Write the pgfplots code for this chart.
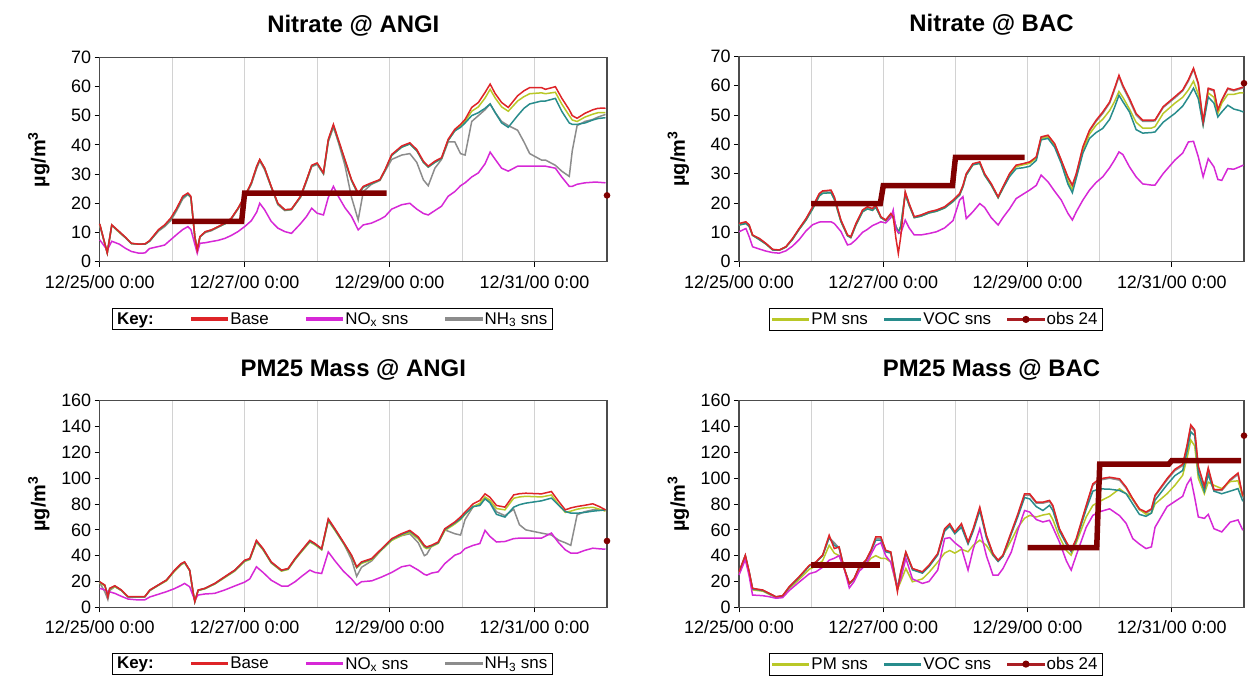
\documentclass[border=0pt]{standalone}
\usepackage{fontspec}
\setmainfont{Liberation Sans}
\usepackage{pgfplots}
\usepackage{pgfplotstable}
\pgfplotsset{compat=1.18}

\definecolor{cbase}{RGB}{222,36,40}
\definecolor{cnox}{RGB}{214,40,214}
\definecolor{cnh}{RGB}{140,140,140}
\definecolor{cpm}{RGB}{185,200,40}
\definecolor{cvoc}{RGB}{40,140,140}
\definecolor{cobs}{RGB}{128,0,0}
\definecolor{cobsl}{RGB}{170,30,35}

% Nitrate @ ANGI
\pgfplotstableread{
h base nox nh3 pm voc
0 13 7.5 12.5 12.8 12.8
2.5 3 4 3 3 3
4 12.6 7 12.5 12.5 12.5
6.5 10.3 6 10 10 10.2
8.5 8.4 4.6 8.2 8.3 8.3
10.5 6.3 3.5 6.2 6.2 6.2
13 6 2.9 6 6 6
15 6.1 3 6 6 6
16.5 7.2 4.5 7 7 7
19.5 11 5.2 10.5 10.8 10.8
21.5 12.6 5.7 12 12.4 12.4
23.5 14.9 7.5 14 14.6 14.6
25.5 18.3 9.3 17.5 18 18
27.5 22.4 11 21.5 22 22
29.2 23.5 12 23 23.2 23.2
30.2 22.4 11 22 22 22
31.5 8.6 6 8.5 8.5 8.5
32.3 4 2.9 4 4 4
33.2 8.6 6.3 8.5 8.5 8.5
35 10.3 6.5 10 10.2 10.2
37 10.9 6.9 10.6 10.8 10.8
39.2 12 7.3 11.8 11.9 11.9
41.5 13.2 8 13 13 13
43.6 14.9 9 14.6 14.8 14.8
45.8 18.3 10.3 18 18.2 18.2
48 22.4 12 22 22.2 22.2
50.2 27 14 26.5 26.8 26.8
52 32.7 17 32 32.5 32.5
53 35 20 34.5 34.8 34.8
54.6 32.1 17.8 31.5 32 32
56.8 25.8 13.8 25.5 25.6 25.6
59 20 11.5 19.5 19.8 19.8
61.3 17.8 10.3 17.5 17.7 17.7
63.5 18 9.7 17.8 17.9 17.9
66.5 22.4 13 22 22.2 22.2
68.5 28 15.5 27.5 27.8 27.8
70.2 33 18.3 32.5 32.8 32.8
72 33.8 16.6 33.3 33.6 33.6
74.1 30.4 16 30 30.2 30.2
75.7 41.9 22 41 41.5 41.5
77.4 47 25.8 46 46.6 46.6
79 41.9 22.4 41 41.5 41.5
81.2 35 18.5 33 34.6 34.6
83.4 28.1 15.5 22 27.8 27.8
85.6 23.5 10.9 14.3 23 23
87.3 25.8 12.6 24 25.5 25.5
90 27 13.2 26.5 26.7 26.7
92.8 28.1 14.5 27.8 28 28
94.5 31.5 15.5 31 31.3 31.3
96.7 36.7 18 35 36.4 36.4
100 39.6 19.5 36.5 39.2 39.2
102.7 40.7 20 37 40.3 40.3
105 38.4 18 34 38 38
107.2 34.4 16.5 28 34 34
108.8 32.7 16 26 32.4 32.4
111 34.4 17.5 32 34 34
113.2 35.6 19 35 35.3 35.3
115.4 41.9 22.4 41 41.5 41.5
117.6 45.3 24 41 44.8 44.8
119.5 47 26 37 46.5 46
121 48.7 27 36.5 48 47.5
123.2 52.8 29 48 51.5 50
125.4 54.5 30.4 50 53 51
127.6 57.9 33.5 52 56 52.5
129.3 60.8 37.5 54 59 54
131 57.5 35 51 56 51
133.1 54.5 32 48 53 47.5
135.3 52.8 31 46.6 51.5 46
138.4 56.8 32.7 45 55 50
140.5 58.5 32.7 41 56.5 52.5
142.4 59.6 32.7 37 57.5 54
146.3 59.6 32.7 34.8 57.8 55
147.6 59 32.7 34.8 57.5 55
150.9 59.9 32 33 58 55.9
153 56 29 31 54 51.5
155.5 52 25.8 29.2 50 47.5
156.5 50 25.8 38 48.5 47
158.1 49.1 26.5 46.6 48 47
160.7 50.8 27 48 49.5 47.5
163.3 52 27.2 48.7 50.5 48.5
165 52.5 27.2 49.5 51 49
167.5 52.6 27 50.4 51 49.3
}\tabA

% Nitrate @ BAC
\pgfplotstableread{
h base nox nh3 pm voc
0 13 10.2 12.8 12.5 12.5
2.3 13.6 11.3 13.4 13 13
3.4 12.5 8.5 12.3 12 12
4.5 9.1 5.1 9 9 9
6.8 7.9 4.3 7.8 7.5 7.5
9 6.2 3.6 6.1 6 6
11.2 4.2 3.1 4.1 4 4
13.4 4 2.9 4 3.9 3.9
15.6 5.1 3.7 5 5 5
17.8 7.9 5.3 7.8 7.6 7.6
20 11.3 7.5 11.1 11 11
22.3 14.7 10.5 14.5 14.2 14.2
24.5 18.7 12.6 18.5 18 18
26.7 23.2 13.5 23 22.4 22.4
27.8 24.1 13.6 23.9 23.3 23.3
30.6 24.4 13.6 24.2 23.5 23.5
31.7 22.1 13 22 21.3 21.3
33.9 14.2 10.3 14 13.7 13.7
36.1 9.1 5.7 9 8.8 8.8
37.2 8.5 6 8.4 8.2 8.2
38.9 13 7.5 12.8 12.5 12.5
41.1 17.6 10 17.4 17 17
42.7 18.7 11 18.5 18 18
44.4 18.1 12.3 18 17.5 17.5
45.5 19.3 12.8 19.1 18.6 18.6
47.2 15.3 13.6 15.2 15 15
48.8 14.2 13.2 14.1 14 14
50.5 16.4 15 16.2 16 16
51.3 15.3 17.6 15.2 15 15
52.2 8 11 12 12 12
53 2.8 10 10 10 10
53.8 8.5 9.6 12 12 12
55.3 23.8 14.2 23.5 23 23
56.6 19.8 11.5 19.6 19.2 19.2
58.3 15.3 9.1 15.2 15 15
60.5 15.9 9.1 15.8 15.5 15.5
63.2 17 9.6 16.9 16.6 16.6
65.7 17.6 10.2 17.5 17.2 17.2
68.4 18.7 11.5 18.6 18.3 18.3
71.2 21 14 20.8 20.5 20.5
73.4 23.2 21 23 22.7 22.7
74.5 26 22.1 25.8 25.5 25.5
75.6 30 14.7 29.8 29.5 29.5
77.8 33.4 17 33.2 33 33
80.1 34 19.8 33.8 33.5 33.5
81.7 30 18.5 29.8 29.5 29.5
83.9 26.6 15 26.4 26.1 26.1
86.2 22.1 12.5 22 21.8 21.8
87.8 25.5 15 25.3 25 25
90 30 18 29.8 29.5 29
92.2 32.9 21.5 32.7 32.4 31.7
94.5 33.4 23 33.2 33 32
96.7 34 24.4 33.8 33.5 32.5
98.9 35.7 26 35.5 35.2 34.5
100.5 42.5 29.5 42.2 41.8 41.5
102.8 43.1 27.2 42.8 42.5 42
105 40.2 24 40 39.5 39
107.2 34.6 21 34.4 34 33.5
109.4 28.9 16.5 28.6 27.5 26.5
110.9 26.1 14.2 25.8 24.5 23.5
112.2 30 17 29.8 29 28.5
114.4 39.1 21 38.8 38 37
116.6 44.8 24.4 44.5 43.5 42
118.8 48.2 27 47.8 46.5 44
121 51 28.9 50.5 48.5 45.4
123.3 54.4 32 54 51.5 48.5
124.9 59 34.6 58.5 54.5 52.5
126.4 63.5 37.4 63 58 56.7
127.7 60.1 36.5 59.5 56 54.5
129.9 55.6 32.3 55 52 51
132.1 50.5 28.9 50 47.5 45
134.3 48.2 26.5 47.8 45.5 43.8
137.2 48.2 26.1 47.8 45.5 44
138.4 48.3 26.1 48 46 44.2
141.1 52.8 30 52.5 50.5 47.5
145 56.2 34.6 55.8 54 50.5
147.6 58.5 37 58.2 56 53
149.5 62 40.8 61.5 58.5 56
151.2 65.9 41 65.5 61.5 59.1
152.8 60.8 35.7 60.4 57 55.5
154.4 47.7 28.9 47.5 47 46.5
156.1 59.1 35.1 58.8 57.5 56.1
158 58.5 32.3 58.2 56 54
159.3 51.7 28 51.5 50.5 49.3
160.6 55.1 27.7 54.8 54 51
162.6 59.1 31.7 58.8 57 53.3
164.6 58.5 31.5 58.2 57 52
166.5 59.1 32.3 58.8 57.5 51.5
167.8 59.5 32.9 59.2 57.5 51
}\tabB

% PM25 Mass @ ANGI
\pgfplotstableread{
h base nox nh3 pm voc
0 19.8 14.7 19 19 19.5
1.7 17.2 13.5 12 16.5 17
2.7 8 12.1 6 10 9
3.3 14.7 12 13 14 14.5
5 16.7 10.8 16 16 16.5
7.2 13.4 8.5 13 13 13.2
9.4 8.2 6.4 8 8 8
12.7 8.2 5.7 8 8 8
14.9 8.2 5.7 8 8 8
16.6 13.4 8 13 13 13.2
19.3 17.2 10 17 16.8 17
22.1 21.1 12.1 21 20.5 21
24.8 28.8 14.5 28.5 28 28.5
27 33.9 17 33.5 33 33.5
28.1 35.2 18.5 34.8 34.5 35
29.8 28.8 15.9 28.5 28.3 28.6
30.9 12.1 9 12 12 12
31.5 4.4 5.7 4.4 4.5 4.4
32.6 13.4 9.5 13.2 13 13.2
34.8 14.7 10.3 14.5 14.3 14.5
38.1 18.5 10.8 18.3 18 18.3
41.4 23.7 13.4 23.4 23 23.4
44.7 28.8 16.5 28.5 28 28.5
48 36.5 19.5 36 35.5 36
49.7 37.8 22 37.4 37 37.5
51.9 51.9 31.4 51.2 50.5 51.2
54.1 45.5 27 45 44.5 45
56.8 35.2 21 34.8 34.3 34.8
60.2 28.8 16.5 28.5 28 28.5
62.4 30.1 16.5 29.8 29.3 29.8
64.7 37.8 19.8 37.4 37 37.4
66.9 44.2 24 43.8 43.2 43.8
69.6 51.9 28.8 51.2 50.6 51.2
71.3 49.4 27 49 48.4 49
73.5 45.5 26.2 45 44.5 45
75.7 68.6 42.9 67.8 67 67.8
77.9 60.9 36 60.2 59.6 60.2
80.7 50.6 28 50 49.5 50
83.4 40.4 22 37 39.5 40
85.1 31.4 17.2 24 30.5 31
86.7 35.2 19.8 31 34 34.8
90.1 37.8 20.5 36 36.8 37.4
93.4 45.5 23.5 45 44.5 45
96.7 53.2 27 52.5 51.8 52.7
100 57.1 31.4 55.5 55.7 56.5
102.7 59.6 32.6 57 58 59
105.5 54.5 28.8 50 53 54
107.5 48 25.5 40 46.5 47.5
108.3 46.8 24.9 41 45.5 46.3
109.9 48.1 26.5 47.5 47 47.6
112.1 50.6 27.5 50 49.5 50
114.3 60.9 33.9 60 59.5 60.3
117.6 66.1 40.4 57 64.5 65.4
119.5 70 42 56 68 68.5
121 73.8 45.5 68 72 72.5
123.7 80.2 48 78 78 78
125.9 82.8 49.4 80 80.5 78.9
127.6 87.9 59.6 84.5 85.5 84
129.2 85.3 55 82 83 81
131.4 78.9 50.6 74 76.5 72
134.2 77.6 51 71 75.5 69.9
137.1 87.1 53.2 76 84.5 77.6
139 88 53.6 64 85.5 79.5
141.1 88.4 53.6 60 86 80.7
146.3 87.9 53.6 57.5 85.5 82.5
149.6 89.7 57.5 56 87 84.6
152 82 50 52 79.5 79
154.2 75.5 44.5 50 73.5 74.2
156 77 42 48 74.5 73
158.1 78.1 41.9 71.6 76 72.9
160.5 79 44 74 77 73.5
163.3 80.2 45.8 75.5 77.5 74.5
165.5 78 45.3 75.5 76 75
167.5 75.5 45 75.5 74.5 75.5
}\tabC

% PM25 Mass @ BAC
\pgfplotstableread{
h base nox nh3 pm voc
0 27.5 25 27 26 27
2.1 40.4 37 40 38 40
3.4 27.5 24 27 26 27
4.5 14.7 9.5 14.5 13.5 14.2
7.9 13.4 9 13.2 12.5 13
10.1 10.8 8.2 10.6 10 10.5
12.3 8.2 7 8 7.6 8
14.5 9 7.5 8.8 8.4 8.8
16.7 15.9 13 15.5 14.5 15.5
20 23.7 19.5 23.2 21.5 23.2
23.4 32.6 26 32 29.5 32
25.6 35.2 27.5 35 32 34.8
27.8 40.4 31 40 36 40
30 55.8 36.5 54 48 54
31.7 45.5 38 50 42 48
33.3 46.8 40 46 40 46
35 30.1 30 30 30 30
36.7 18.5 15 18.2 18 18.3
38.3 22.4 20 22 21.5 22
40 31.4 28 31 29 31
42.2 36.5 33 36 33 36
43.9 44.2 41 43.5 38 43.5
45.5 54.5 48 53.5 40 52
47.2 54.5 50 53.5 38 52
48.8 44.2 40 43.5 37.8 43
50.5 42.9 35 42.5 35 42
52.7 12.1 15 15 14 14
53.8 27.5 22 27 20 26
55.5 42.9 38 42.5 30 42
57.7 30.1 22 29.8 19.8 29
61 27.5 18.5 27.2 22 26.5
63.2 32.6 20 32.3 27 31.5
66.1 41.6 28.8 41.2 35 40.5
68.4 60.9 53.2 60 42 59
70.1 64.8 54 64 44 63
71.8 58.4 50 57.8 42 57
74 64.8 46 64 45 62
76.2 50.6 28.8 50 43 49
77.9 60.9 45 60.2 48 59
80.1 77.6 60.9 76.5 52 75
82.3 55.8 40 55 48 54
84.5 41.6 24.9 41 40 40.5
86.2 36.5 24.9 36 36 35.5
87.8 40.4 30 40 40 39.5
90.6 58.4 42.9 57.8 52 57
92.8 72.5 60 71.8 62 70.5
95 87.9 75 87 69 85
96.7 87.9 73.8 87 71.2 84
98.9 81.5 68 80.7 70 78
101.1 81.5 66.1 80.7 71.5 75
103.3 82.8 67.4 82 72.5 79
104.4 78.9 62 78 68 75
106.6 60.9 50.6 60.2 54.5 59
108.9 50.6 36 50 44 49
110.5 44.2 28.8 43.8 40.4 43
112.2 53.2 40.4 52.6 50 52
115.5 78.9 62 78 70 76
117.7 95.6 71.2 94.5 78.9 90
119.9 99.5 74 98.5 82 91.8
123.3 100.8 76.3 100 86 91.5
126.6 99.5 71 98.5 91.8 90.5
128.8 93.1 65 92.2 88 88
131 84.1 53.2 83.3 84 80
133.2 76.3 49 75.5 76 72
135.4 73.8 45.5 73 72 70.5
137.2 76.3 46.8 75.5 73 73
138.4 86.8 62 86 80 83
142.4 99.7 78 98.7 88 95
145 106.9 82 105.9 94.5 102
147.6 110.8 86 109.8 102.3 106
149 125 95 124 115 120
150.3 141.3 100 140 129.6 136
151.6 137.5 85 136 125 133
152.8 109.3 70 108 100 104
154.8 93.8 68.9 93 88 90
156.1 108 72 107 97 103
158 91.2 60.9 90.5 94.5 90
160.6 91.2 58.4 90.5 92 88
163.4 99 66 98 97.4 90
166 104 67.7 103 98 92
167.6 86 59.7 85 86 82.1
}\tabD

% observed 24-h averages
\pgfplotstableread{
h v
24 13.8
47 13.8
48 23.5
95 23.5
}\obsA
\pgfplotstableread{
h v
24 19.8
47 19.8
48 25.9
71 25.9
72 35.5
95 35.5
}\obsB
\pgfplotstableread{
h v
24 32.6
47 32.6
}\obsDa
\pgfplotstableread{
h v
96 46.3
119 46.3
120 111
143 111
144 113.7
167 113.7
}\obsDb

\pgfplotsset{
  panel/.style={
    scale only axis, enlargelimits=false, clip=false,
    xmin=0, xmax=168,
    xtick={0,48,96,144},
    xticklabels={12/25/00 0:00,12/27/00 0:00,12/29/00 0:00,12/31/00 0:00},
    minor xtick={24,72,120},
    xmajorgrids, xminorgrids,
    major grid style={draw=gray!35, line width=0.8bp},
    minor grid style={draw=gray!35, line width=0.8bp},
    tick align=outside, xtick pos=bottom, ytick pos=left,
    major tick length=5bp, minor tick length=0bp,
    tick style={draw=black, line width=0.8bp},
    axis line style={draw=gray!60!black, line width=1.2bp},
    ticklabel style={font=\fontsize{18}{20}\selectfont},
    xticklabel style={yshift=-5bp},
    /pgf/number format/assume math mode=true,
    title style={font=\bfseries\fontsize{24}{28}\selectfont, at={(axis description cs:0.5,1)}, anchor=center, yshift=25bp},
    ylabel={\textbf{µg/m\textsuperscript{3}}},
    every axis y label/.style={at={(axis description cs:-0.12,0.5)}, rotate=90, anchor=center, font=\bfseries\fontsize{20}{22}\selectfont},
    legend style={draw=black, font=\fontsize{17}{19}\selectfont, anchor=north west},
    legend cell align=left,
    every axis plot/.append style={line width=1.5bp},
  },
  lbase/.style={legend image code/.code={\fill[cbase] (0bp,-0.8bp) rectangle (36bp,0.8bp);}},
  lnox/.style={legend image code/.code={\fill[cnox] (0bp,-0.8bp) rectangle (36bp,0.8bp);}},
  lnh/.style={legend image code/.code={\fill[cnh] (0bp,-0.8bp) rectangle (36bp,0.8bp);}},
  lpm/.style={legend image code/.code={\fill[cpm] (0bp,-0.8bp) rectangle (36bp,0.8bp);}},
  lvoc/.style={legend image code/.code={\fill[cvoc] (0bp,-0.8bp) rectangle (36bp,0.8bp);}},
  lobs/.style={legend image code/.code={\fill[cobsl] (0bp,-0.8bp) rectangle (36bp,0.8bp); \fill[cobs] (18bp,0bp) circle (2.8bp);}},
  lkey/.style={legend style={/tikz/every even column/.append style={column sep=35bp}}},
  rkey/.style={legend style={/tikz/every even column/.append style={column sep=14bp}}},
}

\begin{document}
\begin{tikzpicture}
\path[use as bounding box] (0,0) rectangle (1251bp,686bp);

% ---------- Nitrate @ ANGI ----------
\begin{axis}[panel, lkey, at={(99.7bp,424.3bp)}, anchor=south west,
  width=507.3bp, height=204.5bp, ymin=0, ymax=70, ytick distance=10,
  title={Nitrate @ ANGI},
  legend columns=4,
  legend style={at={(axis description cs:0.024,-0.227)}}]
\addplot[cnh, forget plot] table[x=h, y=nh3]{\tabA};
\addplot[cpm, forget plot] table[x=h, y=pm]{\tabA};
\addplot[cvoc, forget plot] table[x=h, y=voc]{\tabA};
\addplot[cnox, forget plot] table[x=h, y=nox]{\tabA};
\addplot[cbase, forget plot] table[x=h, y=base]{\tabA};
\addplot[cobs, line width=5.5bp, forget plot] table[x=h, y=v]{\obsA};
\addplot[cobs, only marks, mark=*, mark size=2.5bp, forget plot] coordinates {(168,22.7)};
\addlegendimage{empty legend}\addlegendentry{\textbf{Key:}}
\addlegendimage{lbase}\addlegendentry{Base}
\addlegendimage{lnox}\addlegendentry{NO\textsubscript{x} sns}
\addlegendimage{lnh}\addlegendentry{NH\textsubscript{3} sns}
\end{axis}

% ---------- Nitrate @ BAC ----------
\begin{axis}[panel, rkey, at={(739bp,424.3bp)}, anchor=south west,
  width=505bp, height=205.5bp, ymin=0, ymax=70, ytick distance=10,
  title={Nitrate @ BAC},
  legend columns=3,
  legend style={at={(axis description cs:0.059,-0.227)}}]
\addplot[cnh, forget plot] table[x=h, y=nh3]{\tabB};
\addplot[cpm, forget plot] table[x=h, y=pm]{\tabB};
\addplot[cvoc, forget plot] table[x=h, y=voc]{\tabB};
\addplot[cnox, forget plot] table[x=h, y=nox]{\tabB};
\addplot[cbase, forget plot] table[x=h, y=base]{\tabB};
\addplot[cobs, line width=5.5bp, forget plot] table[x=h, y=v]{\obsB};
\addplot[cobs, only marks, mark=*, mark size=2.5bp, forget plot] coordinates {(168,60.8)};
\addlegendimage{lpm}\addlegendentry{PM sns}
\addlegendimage{lvoc}\addlegendentry{VOC sns}
\addlegendimage{lobs}\addlegendentry{obs 24}
\end{axis}

% ---------- PM25 Mass @ ANGI ----------
\begin{axis}[panel, lkey, at={(99.7bp,78.7bp)}, anchor=south west,
  width=507.3bp, height=206.5bp, ymin=0, ymax=160, ytick distance=20,
  title={PM25 Mass @ ANGI},
  legend columns=4,
  legend style={at={(axis description cs:0.024,-0.2215)}}]
\addplot[cnh, forget plot] table[x=h, y=nh3]{\tabC};
\addplot[cpm, forget plot] table[x=h, y=pm]{\tabC};
\addplot[cvoc, forget plot] table[x=h, y=voc]{\tabC};
\addplot[cnox, forget plot] table[x=h, y=nox]{\tabC};
\addplot[cbase, forget plot] table[x=h, y=base]{\tabC};
\addplot[cobs, only marks, mark=*, mark size=2.5bp, forget plot] coordinates {(168,51.4)};
\addlegendimage{empty legend}\addlegendentry{\textbf{Key:}}
\addlegendimage{lbase}\addlegendentry{Base}
\addlegendimage{lnox}\addlegendentry{NO\textsubscript{x} sns}
\addlegendimage{lnh}\addlegendentry{NH\textsubscript{3} sns}
\end{axis}

% ---------- PM25 Mass @ BAC ----------
\begin{axis}[panel, rkey, at={(739bp,78.7bp)}, anchor=south west,
  width=505bp, height=206.5bp, ymin=0, ymax=160, ytick distance=20,
  title={PM25 Mass @ BAC},
  legend columns=3,
  legend style={at={(axis description cs:0.059,-0.2215)}}]
\addplot[cnh, forget plot] table[x=h, y=nh3]{\tabD};
\addplot[cpm, forget plot] table[x=h, y=pm]{\tabD};
\addplot[cvoc, forget plot] table[x=h, y=voc]{\tabD};
\addplot[cnox, forget plot] table[x=h, y=nox]{\tabD};
\addplot[cbase, forget plot] table[x=h, y=base]{\tabD};
\addplot[cobs, line width=5.5bp, forget plot] table[x=h, y=v]{\obsDa};
\addplot[cobs, line width=5.5bp, forget plot] table[x=h, y=v]{\obsDb};
\addplot[cobs, only marks, mark=*, mark size=2.5bp, forget plot] coordinates {(168,133)};
\addlegendimage{lpm}\addlegendentry{PM sns}
\addlegendimage{lvoc}\addlegendentry{VOC sns}
\addlegendimage{lobs}\addlegendentry{obs 24}
\end{axis}
\end{tikzpicture}
\end{document}
